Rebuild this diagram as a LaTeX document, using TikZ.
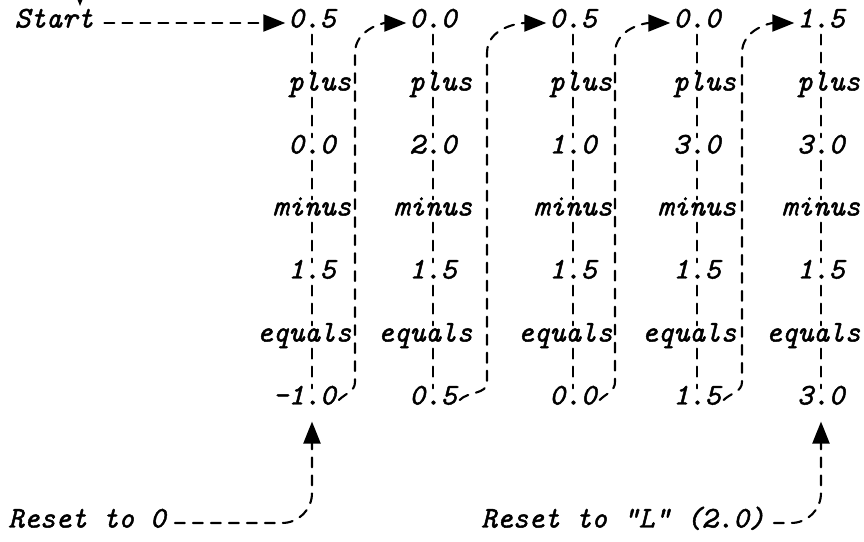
\documentclass[tikz,border=0pt]{standalone}
\usepackage{fontspec}
\newfontfamily\typer{Latin Modern Mono}[FakeBold=1.6]
\usetikzlibrary{arrows.meta,calc}

\begin{document}
\begin{tikzpicture}[
  x=0.5pt,y=0.5pt,
  line width=1.05pt,
  line cap=round,
  font=\typer\itshape\fontsize{15}{17}\selectfont,
  conn/.style={dash pattern=on 5pt off 4pt},
  val/.style={inner sep=1pt,text height=0.65em,text depth=0.2em},
  >={Triangle[length=11pt,width=8.5pt]}
]
  % Page frame; the stray tip at the top edge is cut off by it.
  \useasboundingbox (0,0) rectangle (864,542);
  \clip (0,0) rectangle (864,542);

  % Five columns: value, plus, value, minus, value, equals, result.
  \foreach \i/\x/\rx/\a/\b/\c/\r in {1/312/304.3/0.5/0.0/1.5/-1.0,
      2/433/433/0.0/2.0/1.5/0.5, 3/573/573/0.5/1.0/1.5/0.0,
      4/697/697/0.0/3.0/1.5/1.5, 5/821/821/1.5/3.0/1.5/3.0} {
    \node[val] (top\i) at (\x,519) {\a};
    \node[val] (plus\i) at (\x+7.7,456) {plus};
    \node[val] (add\i) at (\x,393) {\b};
    \node[val] (minus\i) at (\x,331) {minus};
    \node[val] (sub\i) at (\x,268) {\c};
    \node[val] (eq\i) at (\x-7.7,205) {equals};
    \node[val] (res\i) at (\rx,142) {\r};
  }

  % Dashed guide down each column.
  \foreach \i in {1,...,5} {
    \draw[conn] (top\i.south) -- (plus\i.north -| top\i);
    \draw[conn] (plus\i.south -| top\i) -- (add\i.north);
    \draw[conn] (add\i.south) -- (minus\i.north);
    \draw[conn] (minus\i.south) -- (sub\i.north);
    \draw[conn] (sub\i.south) -- (eq\i.north -| top\i);
    \draw[conn] (eq\i.south -| top\i) -- (res\i.north -| top\i);
  }

  % Each result is carried up to the top of the next column.
  \foreach \i/\j/\u in {1/2/355, 2/3/487, 3/4/615, 4/5/742} {
    \coordinate (up\i) at (\u,0);
    \draw[conn,->] (res\i.east) to[out=45,in=-90] ($(res\i.east -| up\i)+(0,18)$)
      -- ($(top\j.west -| up\i)+(0,-30)$) to[out=90,in=180] (top\j.west);
  }

  % Start value.
  \node[val] (start) at (54,519) {Start};
  \draw[conn,->,shorten <=4pt] (start.east) -- (top1.west);

  % Resets from below.
  \node[val] (reset0) at (87,19) {Reset to 0};
  \node[val] (resetL) at (623,19) {Reset to "L" (2.0)};
  \draw[conn,->,shorten <=3pt,shorten >=5pt] (reset0.east) -- ($(reset0.east -| top1)+(-30,0)$)
    to[out=0,in=-90] ($(reset0.east -| top1)+(0,30)$) -- (res1.south -| top1);
  \draw[conn,->,shorten <=3pt,shorten >=5pt] (resetL.east) -- ($(resetL.east -| top5)+(-30,0)$)
    to[out=0,in=-90] ($(resetL.east -| top5)+(0,30)$) -- (res5.south -| top5);

  % Tip of an arrow coming in over the top edge.
  \coordinate (above) at (80,580);
  \coordinate (stub) at (80,536);
  \draw[conn,->] (above) -- (stub);
\end{tikzpicture}
\end{document}
